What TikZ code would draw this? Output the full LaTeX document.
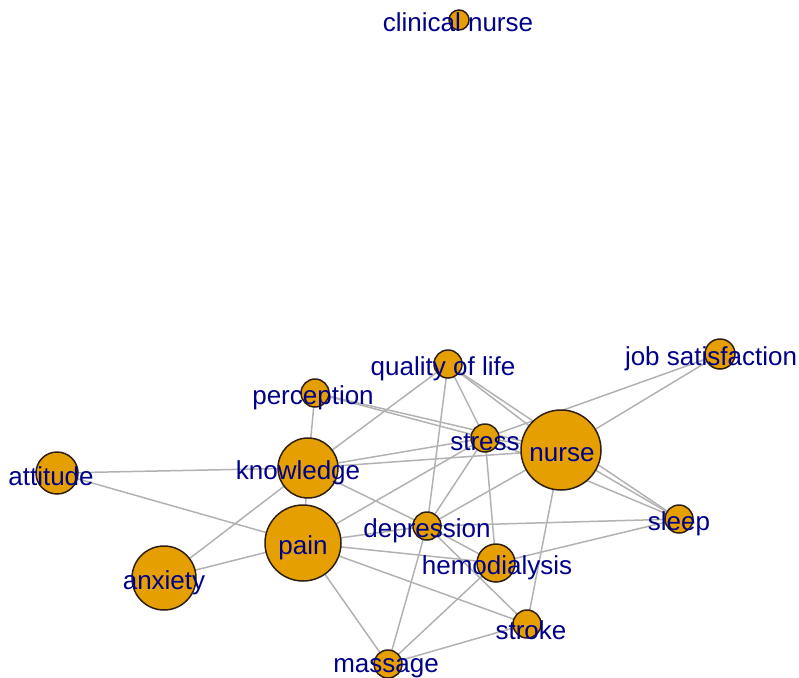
\documentclass[tikz,border=0pt]{standalone}
\usepackage{fontspec}
\setmainfont{Liberation Sans}
\pgfdeclarelayer{background}
\pgfsetlayers{background,main}
\definecolor{vfill}{HTML}{E69F00}
\definecolor{vframe}{HTML}{2E2010}
\definecolor{edgecol}{HTML}{B2B2B2}
\definecolor{labcol}{HTML}{00008B}
\tikzset{
  vert/.style={circle, draw=vframe, fill=vfill, line width=1.5pt, inner sep=0pt, minimum size=#1},
  vlab/.style={anchor=base, inner sep=0pt, text=labcol, font=\fontsize{26}{30}\selectfont},
  edge/.style={draw=edgecol, line width=1.5pt}
}
\begin{document}
\begin{tikzpicture}[x=1pt,y=-1pt]
\useasboundingbox (0,0) rectangle (799,677);
% vertices
\node[vert=20pt] (cn)  at (459,20) {};
\node[vert=28pt] (qol) at (448,364) {};
\node[vert=30pt] (js)  at (720,354) {};
\node[vert=28pt] (per) at (315,393) {};
\node[vert=28pt] (str) at (485,438) {};
\node[vert=80pt] (nur) at (561,450) {};
\node[vert=42pt] (att) at (57,473) {};
\node[vert=60pt] (kno) at (308,468) {};
\node[vert=28pt] (dep) at (427,526) {};
\node[vert=28pt] (slp) at (679,519) {};
\node[vert=76pt] (pai) at (303,543) {};
\node[vert=38pt] (hem) at (496,563) {};
\node[vert=64pt] (anx) at (164,578) {};
\node[vert=28pt] (stk) at (527,624) {};
\node[vert=28pt] (mas) at (388,664) {};
% edges
\begin{pgfonlayer}{background}
\foreach \a/\b in {kno/att,pai/att,kno/per,kno/qol,kno/str,kno/nur,kno/dep,dep/hem,kno/anx,kno/pai,
  per/str,per/nur,qol/str,qol/nur,qol/dep,qol/slp,
  str/nur,str/js,str/slp,str/dep,str/pai,str/hem,
  nur/js,nur/slp,nur/dep,nur/stk,
  dep/slp,dep/pai,dep/mas,dep/stk,
  pai/anx,pai/hem,pai/stk,pai/mas,
  hem/slp,hem/mas,mas/stk}
  \draw[edge] (\a.center) -- (\b.center);
\end{pgfonlayer}
% labels
\node[vlab] (lcn)  at (458,32) {clinical nurse};
\node[vlab] (lqol) at (443,375) {quality of life};
\node[vlab] (ljs)  at (711,365) {job satisfaction};
\node[vlab] (lper) at (313,404) {perception};
\node[vlab] (lstr) at (485,450) {stress};
\node[vlab] (lnur) at (562,461) {nurse};
\node[vlab] (latt) at (51,485) {attitude};
\node[vlab] (lkno) at (298,479) {knowledge};
\node[vlab] (ldep) at (427,537) {depression};
\node[vlab] (lslp) at (679,530) {sleep};
\node[vlab] (lpai) at (303,554) {pain};
\node[vlab] (lhem) at (497,574) {hemodialysis};
\node[vlab] (lanx) at (164,589) {anxiety};
\node[vlab] (lstk) at (531,639) {stroke};
\node[vlab] (lmas) at (386,672) {massage};
\end{tikzpicture}
\end{document}
